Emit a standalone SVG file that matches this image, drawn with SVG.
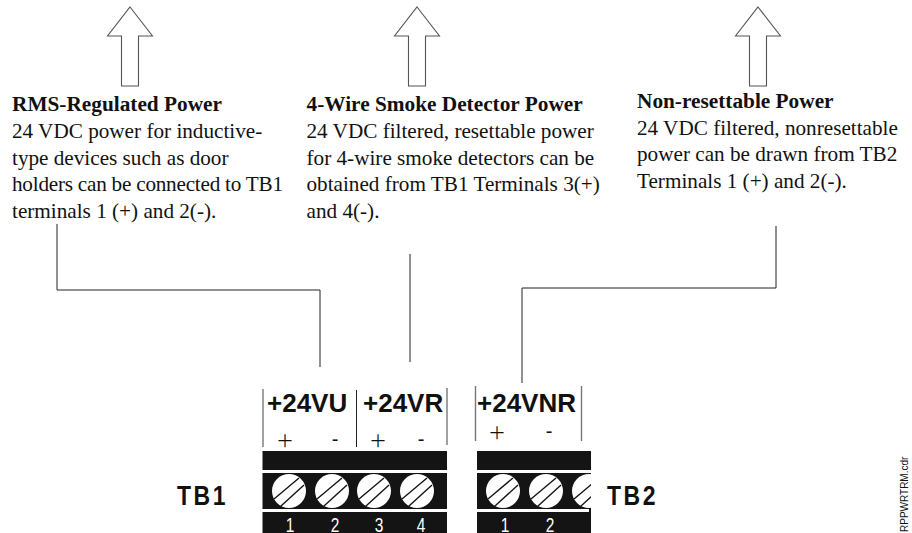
<svg xmlns="http://www.w3.org/2000/svg" width="912" height="533" viewBox="0 0 912 533">
<style>
.t{font-family:"Liberation Serif",serif;font-size:21.2px;fill:#111}
.b{font-weight:bold;font-size:21.300px}
.s{font-family:"Liberation Sans",sans-serif;fill:#111}
.h{font-size:26px;font-weight:bold}
.tb{font-size:23px;font-weight:bold;letter-spacing:2.5px}
.n{font-size:15.5px;fill:#fff;text-anchor:middle}
.p{font-family:"Open Sans",sans-serif;font-size:28px;text-anchor:middle;font-weight:300;fill:#111}
.m{font-size:20px;text-anchor:middle}
.l{fill:none;stroke:#222;stroke-width:1}
.g{fill:none;stroke:#777;stroke-width:1.4}
.a{fill:#fff;stroke:#555;stroke-width:1.1}
.k{fill:#141414}
.c{fill:#fff}
.d{stroke:#141414;stroke-width:1.4}
</style>
<defs>
<polygon id="arrow" class="a" points="0,0 22.5,29 8.500,29 8.500,79 -8.500,79 -8.500,29 -22.500,29"/>
<g id="screw"><circle class="c" r="17"/><line class="d" x1="-15" y1="8" x2="10" y2="-13"/><line class="d" x1="-8" y1="15" x2="15" y2="-6"/></g>
</defs>
<g id="connectors">
<use href="#arrow" x="130" y="7"/>
<use href="#arrow" x="417" y="7"/>
<use href="#arrow" x="758" y="7"/>
<path class="l" d="M57 224V290H320V367"/>
<path class="l" d="M410 254V362"/>
<path class="l" d="M776 226V288H522V383"/>
</g>
<g id="text-rms">
<text class="t b" x="12" y="111">RMS-Regulated Power</text>
<text class="t" x="12" y="138">24 VDC power for inductive-</text>
<text class="t" x="12" y="165">type devices such as door</text>
<text class="t" x="12" y="191" textLength="271">holders can be connected to TB1</text>
<text class="t" x="12" y="218">terminals 1 (+) and 2(-).</text>
</g>
<g id="text-4wire">
<text class="t b" x="306.500" y="111">4-Wire Smoke Detector Power</text>
<text class="t" x="306.500" y="138">24 VDC filtered, resettable power</text>
<text class="t" x="306.500" y="165">for 4-wire smoke detectors can be</text>
<text class="t" x="306.500" y="191">obtained from TB1 Terminals 3(+)</text>
<text class="t" x="306.500" y="218">and 4(-).</text>
</g>
<g id="text-nonres">
<text class="t b" x="637" y="108">Non-resettable Power</text>
<text class="t" x="637" y="135">24 VDC filtered, nonresettable</text>
<text class="t" x="637" y="161">power can be drawn from TB2</text>
<text class="t" x="637" y="188">Terminals 1 (+) and 2(-).</text>
</g>
<g id="TB1">
<path class="g" d="M263 389V447M447 388V445"/>
<path class="l" d="M356.500 390V447"/>
<text class="s h" x="267" y="412">+24VU</text>
<text class="s h" x="363" y="412">+24VR</text>
<text class="p" x="285" y="450">+</text><text class="s m" x="335" y="446">-</text><text class="p" x="378" y="450">+</text><text class="s m" x="421" y="446">-</text>
<rect class="k" x="262.500" y="451" width="184.500" height="19"/>
<rect class="k" x="262.500" y="473" width="184.500" height="36"/>
<rect class="k" x="262.500" y="512" width="184.500" height="21"/>
<use href="#screw" x="289" y="491"/><use href="#screw" x="332" y="491"/><use href="#screw" x="374" y="491"/><use href="#screw" x="417" y="491"/>
<text class="s n" transform="translate(290,531.500) scale(1,1.25)">1</text><text class="s n" transform="translate(335,531.500) scale(1,1.25)">2</text><text class="s n" transform="translate(379,531.500) scale(1,1.25)">3</text><text class="s n" transform="translate(421,531.500) scale(1,1.25)">4</text>
<text class="s tb" transform="translate(177,505) scale(1,1.22)">TB1</text>
</g>
<g id="TB2">
<path class="g" d="M475.500 386V441M581.500 386V441"/>
<text class="s h" x="477" y="412">+24VNR</text>
<text class="p" x="497" y="442">+</text><text class="s m" x="549" y="438">-</text>
<rect class="k" x="477" y="451" width="114" height="19"/>
<rect class="k" x="477" y="473" width="114" height="36"/>
<rect class="k" x="477" y="512" width="114" height="21"/>
<rect class="k" x="589" y="509" width="2" height="3"/>
<use href="#screw" x="503" y="491"/><use href="#screw" x="546" y="491"/><use href="#screw" x="589" y="491"/>
<rect x="591" y="472" width="14" height="39" fill="#fff"/>
<text class="s n" transform="translate(505,531.500) scale(1,1.25)">1</text><text class="s n" transform="translate(550,531.500) scale(1,1.25)">2</text>
<text class="s tb" transform="translate(607,505) scale(1,1.22)">TB2</text>
</g>
<text class="s" font-size="10" transform="translate(908,532) rotate(-90)">RPPWRTRM.cdr</text>
</svg>
